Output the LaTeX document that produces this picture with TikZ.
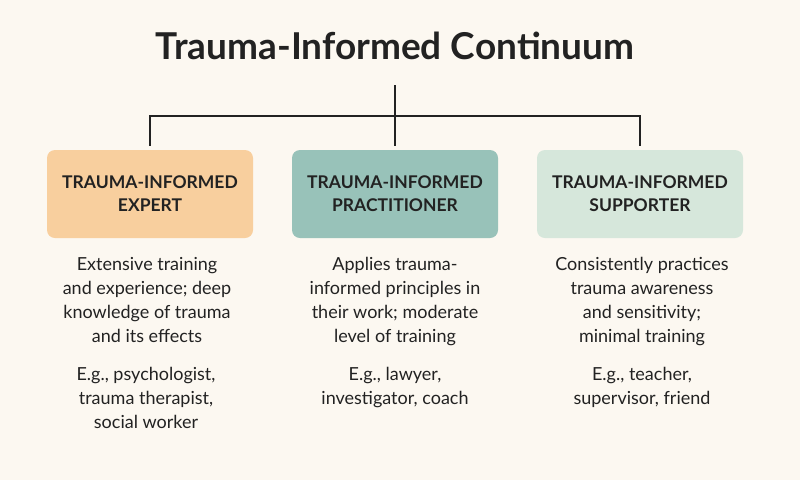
\documentclass[tikz,border=0pt]{standalone}
\usepackage{fontspec}
\setmainfont{Lato}
\definecolor{bg}{HTML}{FCF8F1}
\definecolor{ink}{HTML}{222222}
\definecolor{expertfill}{HTML}{F8CF9E}
\definecolor{practfill}{HTML}{98C2B9}
\definecolor{suppfill}{HTML}{D6E7DB}
\tikzset{
  rolebox/.style={fill=#1, rounded corners=8pt, minimum width=206pt, minimum height=88pt,
    align=center, text=ink, font=\fontsize{17.5}{23}\selectfont\bfseries},
  desc/.style={anchor=north, align=center, inner sep=0pt, text=ink,
    font=\fontsize{18}{24}\selectfont},
  link/.style={draw=ink, line width=1.6pt}
}
\begin{document}
\begin{tikzpicture}[x=1pt,y=-1pt]
  \fill[bg] (0,0) rectangle (800,480);
  \useasboundingbox (0,0) rectangle (800,480);
  \node[text=ink, font=\fontsize{37}{42}\selectfont\bfseries] (title) at (395,46) {Trauma-Informed Continuum};
  \foreach \name/\x/\col/\role in {expert/150/expertfill/EXPERT,
      practitioner/395/practfill/PRACTITIONER, supporter/640/suppfill/SUPPORTER}
    \node[rolebox=\col] (\name) at (\x,194) {TRAUMA-INFORMED\\\role};
  % connectors
  \coordinate (top) at (395,85);
  \coordinate (hub) at (395,116);
  \draw[link, shorten >=4pt] (top) -- (practitioner.north);
  \draw[link, shorten <=4pt, shorten >=4pt] (expert.north) |- (hub) -| (supporter.north);
  % descriptions
  \node[desc] (expertdesc) at (147,257) {Extensive training\\and experience; deep\\knowledge of trauma\\and its effects};
  \node[desc] (practdesc) at (395,257) {Applies trauma-\\informed principles in\\their work; moderate\\level of training};
  \node[desc] (suppdesc) at (642,257) {Consistently practices\\trauma awareness\\and sensitivity;\\minimal training};
  \node[desc] (expertex) at (146,367) {E.g., psychologist,\\trauma therapist,\\social worker};
  \node[desc] (practex) at (395,367) {E.g., lawyer,\\investigator, coach};
  \node[desc] (suppex) at (642,367) {E.g., teacher,\\supervisor, friend};
\end{tikzpicture}
\end{document}
